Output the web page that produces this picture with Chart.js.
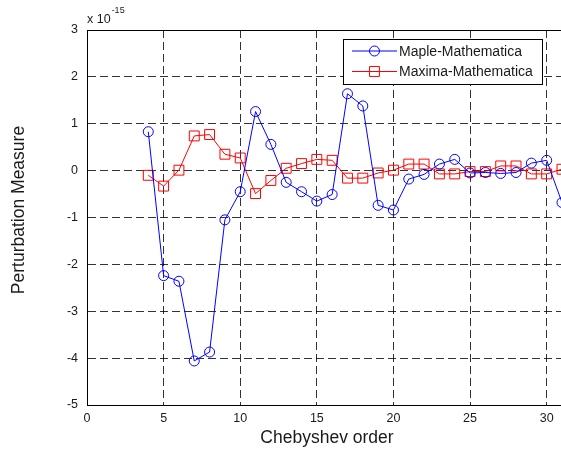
<!DOCTYPE html>
<html lang="en">

<head>
    <meta charset="UTF-8">
    <title>Perturbation Measure</title>
    <style>
        html, body {
            margin: 0;
            padding: 0;
            background: #fff;
            overflow: hidden;
        }

        canvas {
            display: block;
        }
    </style>
</head>

<body>
    <canvas id="myChart" width="563" height="449"></canvas>
    <script src="https://cdn.jsdelivr.net/npm/chart.js"></script>

    <script>
        // Chebyshev orders and the differences (in units of 1e-15)
        const orders = [4, 5, 6, 7, 8, 9, 10, 11, 12, 13, 14, 15, 16, 17, 18, 19, 20, 21, 22, 23, 24, 25, 26, 27, 28, 29, 30, 31];
        const mapleDiff = [0.83, -2.24, -2.36, -4.06, -3.87, -1.05, -0.45, 1.26, 0.56, -0.25, -0.45, -0.65, -0.51, 1.64, 1.38, -0.74, -0.84, -0.18, -0.08, 0.14, 0.24, -0.05, -0.04, -0.06, -0.04, 0.16, 0.22, -0.68];
        const maximaDiff = [-0.10, -0.33, 0.01, 0.74, 0.77, 0.35, 0.27, -0.49, -0.21, 0.05, 0.15, 0.24, 0.22, -0.16, -0.16, -0.05, 0.01, 0.14, 0.14, -0.07, -0.07, -0.02, -0.02, 0.10, 0.10, -0.07, -0.07, 0.03];

        const xTicks = [0, 5, 10, 15, 20, 25, 30];
        const yTicks = [-5, -4, -3, -2, -1, 0, 1, 2, 3];
        const xTitle = 'Chebyshev order';
        const yTitle = 'Perturbation Measure';

        const fontFamily = '"Liberation Sans", Arial, sans-serif';
        const textColor = '#1a1a1a';
        const gridColor = 'rgba(0,0,0,0.8)';

        function toPoints(ys) {
            return orders.map((x, i) => ({ x: x, y: ys[i] }));
        }

        // top frame line, axis titles, "x 10^-15" exponent label and the boxed legend
        const extras = {
            id: 'extras',
            afterDraw(chart) {
                const ctx = chart.ctx;
                const area = chart.chartArea;
                ctx.save();

                ctx.strokeStyle = '#000';
                ctx.lineWidth = 1;
                ctx.beginPath();
                ctx.moveTo(area.left, area.top + 0.5);
                ctx.lineTo(area.right, area.top + 0.5);
                ctx.stroke();

                ctx.fillStyle = textColor;
                ctx.font = '17.5px ' + fontFamily;
                ctx.textAlign = 'center';
                ctx.textBaseline = 'middle';
                ctx.fillText(xTitle, 327, 438);

                ctx.save();
                ctx.translate(19, 210);
                ctx.rotate(-Math.PI / 2);
                ctx.fillText(yTitle, 0, 0);
                ctx.restore();

                ctx.textBaseline = 'alphabetic';
                ctx.textAlign = 'left';
                ctx.font = '12.5px ' + fontFamily;
                ctx.fillText('x 10', area.left, area.top - 7);
                const w = ctx.measureText('x 10').width;
                ctx.font = '9px ' + fontFamily;
                ctx.fillText('-15', area.left + w + 1, area.top - 17);

                // legend
                const boxL = 343.5, boxT = 39.5, boxW = 199, boxH = 45;
                ctx.fillStyle = '#fff';
                ctx.fillRect(boxL, boxT, boxW, boxH);
                ctx.strokeStyle = '#000';
                ctx.strokeRect(boxL, boxT, boxW, boxH);

                chart.data.datasets.forEach((ds, i) => {
                    const y = boxT + 11.5 + i * 20.5;
                    ctx.strokeStyle = ds.borderColor;
                    ctx.lineWidth = 1;
                    ctx.beginPath();
                    ctx.moveTo(352, y);
                    ctx.lineTo(397, y);
                    ctx.stroke();
                    const cx = 374.5;
                    ctx.beginPath();
                    if (ds.pointStyle === 'circle') {
                        ctx.arc(cx, y, ds.pointRadius, 0, Math.PI * 2);
                    } else {
                        const h = ds.pointRadius * Math.SQRT1_2;
                        ctx.rect(cx - h, y - h, 2 * h, 2 * h);
                    }
                    ctx.stroke();
                    ctx.fillStyle = textColor;
                    ctx.font = '14px ' + fontFamily;
                    ctx.textBaseline = 'middle';
                    ctx.fillText(ds.label, 399, y + 1);
                });

                ctx.restore();
            }
        };

        const myCanvas = document.getElementById('myChart');

        const myChart = new Chart(myCanvas, {
            type: 'line',
            data: {
                datasets: [{
                    label: 'Maple-Mathematica',
                    data: toPoints(mapleDiff),
                    borderColor: '#0000ff',
                    backgroundColor: 'rgba(0,0,0,0)',
                    borderWidth: 1,
                    pointStyle: 'circle',
                    pointRadius: 5,
                    pointBorderWidth: 1,
                    tension: 0
                }, {
                    label: 'Maxima-Mathematica',
                    data: toPoints(maximaDiff),
                    borderColor: '#ff0000',
                    backgroundColor: 'rgba(0,0,0,0)',
                    borderWidth: 1,
                    pointStyle: 'rect',
                    pointRadius: 7,
                    pointBorderWidth: 1,
                    tension: 0
                }]
            },
            options: {
                responsive: false,
                animation: false,
                clip: false,
                layout: {
                    autoPadding: false,
                    padding: { top: 30, right: 1, left: 0, bottom: 0 }
                },
                plugins: {
                    legend: { display: false },
                    tooltip: { enabled: false }
                },
                scales: {
                    x: {
                        type: 'linear',
                        min: 0,
                        max: 31,
                        afterBuildTicks: (scale) => {
                            scale.ticks = xTicks.map(v => ({ value: v }));
                        },
                        afterFit: (scale) => {
                            scale.height = 44;
                            scale.paddingLeft = 0;
                            scale.paddingRight = 0;
                        },
                        ticks: {
                            color: textColor,
                            font: { family: fontFamily, size: 12.5 },
                            padding: 6,
                            maxRotation: 0
                        },
                        grid: {
                            color: gridColor,
                            lineWidth: 1,
                            drawTicks: false
                        },
                        border: {
                            display: true,
                            color: '#000',
                            width: 1,
                            dash: [8, 4]
                        }
                    },
                    y: {
                        type: 'linear',
                        min: -5,
                        max: 3,
                        afterBuildTicks: (scale) => {
                            scale.ticks = yTicks.map(v => ({ value: v }));
                        },
                        afterFit: (scale) => {
                            scale.width = 87;
                            scale.paddingTop = 0;
                            scale.paddingBottom = 0;
                        },
                        ticks: {
                            color: textColor,
                            font: { family: fontFamily, size: 12.5 },
                            padding: 9
                        },
                        grid: {
                            color: gridColor,
                            lineWidth: 1,
                            drawTicks: false
                        },
                        border: {
                            display: true,
                            color: '#000',
                            width: 1,
                            dash: [8, 4]
                        }
                    }
                }
            },
            plugins: [extras]
        });
    </script>
</body>

</html>
